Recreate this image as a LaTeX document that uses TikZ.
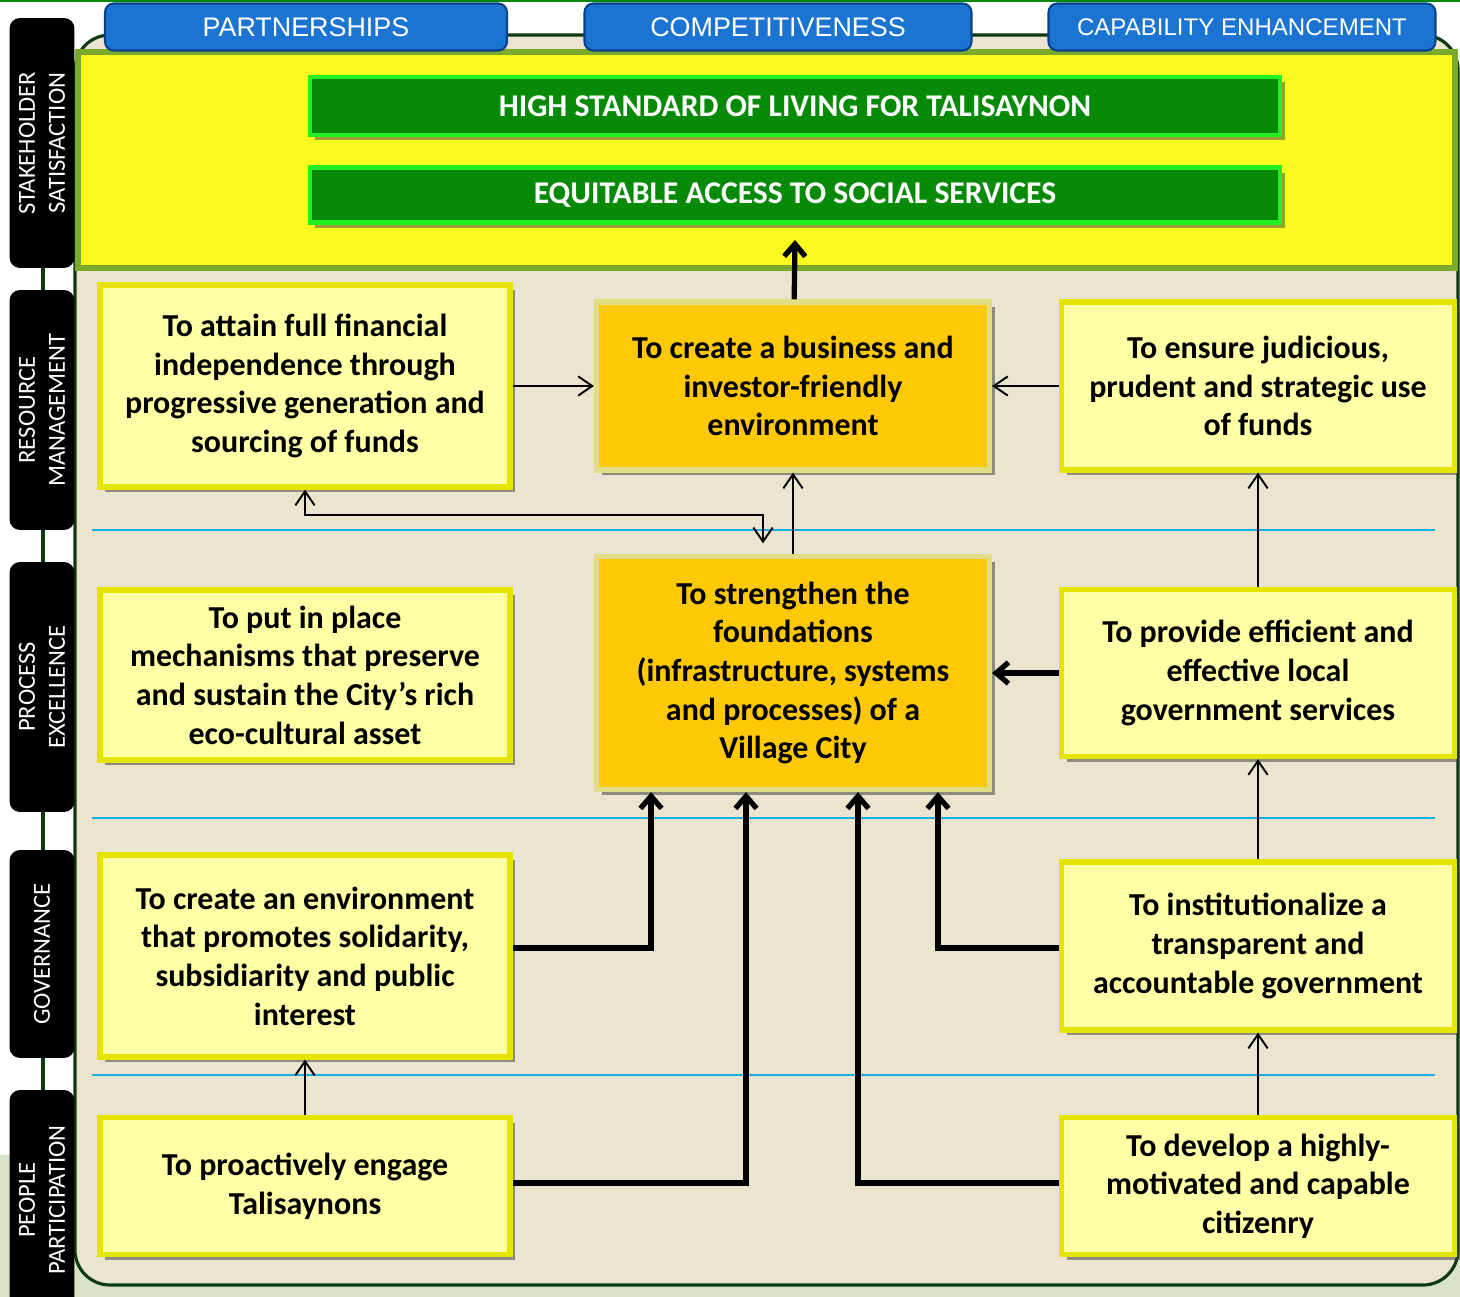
\documentclass[tikz,border=0pt]{standalone}
\usepackage{fontspec}
\setmainfont{Carlito}
\newfontfamily\tabfont{Liberation Sans}
\usetikzlibrary{positioning,arrows.meta,shadows}

\definecolor{panelbg}{HTML}{EBE5CF}
\definecolor{paneledge}{HTML}{0D3A12}
\definecolor{mossbg}{HTML}{D9E4C6}
\definecolor{bandyellow}{HTML}{FAF91E}
\definecolor{bandedge}{HTML}{7AAA2C}
\definecolor{tabblue}{HTML}{1C74D2}
\definecolor{tabedge}{HTML}{0C3F8C}
\definecolor{bannergreen}{HTML}{078A07}
\definecolor{banneredge}{HTML}{22F022}
\definecolor{boxfill}{HTML}{FFFFA6}
\definecolor{boxedge}{HTML}{E4E400}
\definecolor{corefill}{HTML}{FFC907}
\definecolor{coreedge}{HTML}{E2DC86}
\definecolor{ruleblue}{HTML}{1AAEE2}

\tikzset{
  tab/.style={draw=tabedge, line width=1.2pt, fill=tabblue, rounded corners=5pt,
    minimum height=0.94cm, text=white, font=\tabfont\fontsize{15.3}{17}\selectfont},
  banner/.style={draw=banneredge, line width=2.5pt, fill=bannergreen, minimum width=19.4cm,
    text=white, font=\bfseries\fontsize{18}{21}\selectfont,
    drop shadow={shadow xshift=3pt, shadow yshift=-3pt, opacity=0.5, fill=black!75}},
  sidelabel/.style={fill=black, rounded corners=6pt, rotate=90, minimum height=1.3cm,
    align=center, text=white, font=\fontsize{14}{17}\selectfont},
  goalbox/.style={draw=boxedge, line width=3pt, fill=boxfill, align=center,
    font=\bfseries\fontsize{18.2}{22}\selectfont,
    drop shadow={shadow xshift=3pt, shadow yshift=-3pt, opacity=0.55, fill=black!75}},
  corebox/.style={goalbox, draw=coreedge, fill=corefill},
  link/.style={line width=1.1pt, -{Straight Barb[length=8pt,width=11pt]}},
  mainlink/.style={line width=3pt, -{Straight Barb[length=7pt,width=12pt]}},
}

\begin{document}
\begin{tikzpicture}[x=0.02cm,y=-0.02cm]
	\useasboundingbox (0,0) rectangle (1460,1297);

	% background, panel and spine
	\fill[mossbg] (0,1155) rectangle (1460,1297);
	\draw[paneledge!60!green, line width=1.5pt] (0,1) -- (1460,1);
	\draw[paneledge, line width=1.8pt, fill=panelbg, rounded corners=0.7cm] (75,35) rectangle (1458,1285);
	\draw[bandedge, line width=3.5pt, fill=bandyellow] (78,52) rectangle (1455,268);
	\draw[paneledge, line width=2.2pt] (43,18) -- (43,1297);

	% blue rules between the rows
	\foreach \y in {530,818,1075}
		\draw[ruleblue, line width=1.2pt] (92,\y) -- (1435,\y);

	% tabs
	\node[tab, minimum width=8.04cm] (part) at (306,27) {PARTNERSHIPS};
	\node[tab, minimum width=7.74cm] (comp) at (778,27) {COMPETITIVENESS};
	\node[tab, minimum width=7.74cm, font=\tabfont\fontsize{13.7}{16}\selectfont] (capa) at (1242,27) {CAPABILITY ENHANCEMENT};

	% perspective labels
	\node[sidelabel, minimum width=5cm] (stake) at (42,143) {STAKEHOLDER\\SATISFACTION};
	\node[sidelabel, minimum width=4.8cm] (resrc) at (42,410) {RESOURCE\\MANAGEMENT};
	\node[sidelabel, minimum width=5cm] (proc) at (42,687) {PROCESS\\EXCELLENCE};
	\node[sidelabel, minimum width=4.16cm] (gov) at (42,954) {GOVERNANCE};
	\node[sidelabel, minimum width=4.4cm] (people) at (42,1200) {PEOPLE\\PARTICIPATION};

	% stakeholder results
	\node[banner, minimum height=1.16cm] (living) at (795,106) {HIGH STANDARD OF LIVING FOR TALISAYNON};
	\node[banner, minimum height=1.1cm] (access) at (795,195) {EQUITABLE ACCESS TO SOCIAL SERVICES};
	\coordinate (top) at (795,240);

	% objectives
	\node[goalbox, minimum width=8.2cm, minimum height=4.04cm] (fin) at (305,386)
		{To attain full financial\\independence through\\progressive generation and\\sourcing of funds};
	\node[corebox, minimum width=7.86cm, minimum height=3.36cm] (biz) at (793,386)
		{To create a business and\\investor-friendly\\environment};
	\node[goalbox, minimum width=7.86cm, minimum height=3.36cm] (funds) at (1258,386)
		{To ensure judicious,\\prudent and strategic use\\of funds};

	\node[goalbox, minimum width=8.2cm, minimum height=3.4cm] (eco) at (305,675)
		{To put in place\\mechanisms that preserve\\and sustain the City’s rich\\eco-cultural asset};
	\node[corebox, minimum width=7.86cm, minimum height=4.66cm] (found) at (793,673)
		{To strengthen the\\foundations\\(infrastructure, systems\\and processes) of a\\Village City};
	\node[goalbox, minimum width=7.86cm, minimum height=3.34cm] (serv) at (1258,673)
		{To provide efficient and\\effective local\\government services};

	\node[goalbox, minimum width=8.2cm, minimum height=4.04cm] (soli) at (305,956)
		{To create an environment\\that promotes solidarity,\\subsidiarity and public\\interest};
	\node[goalbox, minimum width=7.86cm, minimum height=3.36cm] (transp) at (1258,946)
		{To institutionalize a\\transparent and\\accountable government};

	\node[goalbox, minimum width=8.2cm, minimum height=2.74cm] (engage) at (305,1186)
		{To proactively engage\\Talisaynons};
	\node[goalbox, minimum width=7.86cm, minimum height=2.74cm] (citiz) at (1258,1186)
		{To develop a highly-\\motivated and capable\\citizenry};

	% links
	\draw[mainlink] (biz) -- (top);
	\draw[link] (fin.east |- biz) -- (biz.west);
	\draw[link] (funds.west) -- (biz.east);
	\draw[link] (found) -- (biz);
	\draw[link, {Straight Barb[length=8pt,width=11pt]}-{Straight Barb[length=8pt,width=11pt]}, shorten >=6pt]
		(fin.south) -- (305,515) -| ([xshift=-0.6cm]found.north);
	\draw[link] (serv) -- (funds);
	\draw[link] (transp) -- (serv);
	\draw[link] (citiz) -- (transp);
	\draw[link] (engage) -- (soli);
	\draw[mainlink] (serv.west) -- (found.east |- serv);
	\draw[mainlink] (soli.east |- 0,948) -| ([xshift=-2.84cm]found.south);
	\draw[mainlink] (engage.east |- 0,1183) -| ([xshift=-0.94cm]found.south);
	\draw[mainlink] (citiz.west |- 0,1183) -| ([xshift=1.3cm]found.south);
	\draw[mainlink] (transp.west |- 0,948) -| ([xshift=2.9cm]found.south);
\end{tikzpicture}
\end{document}
